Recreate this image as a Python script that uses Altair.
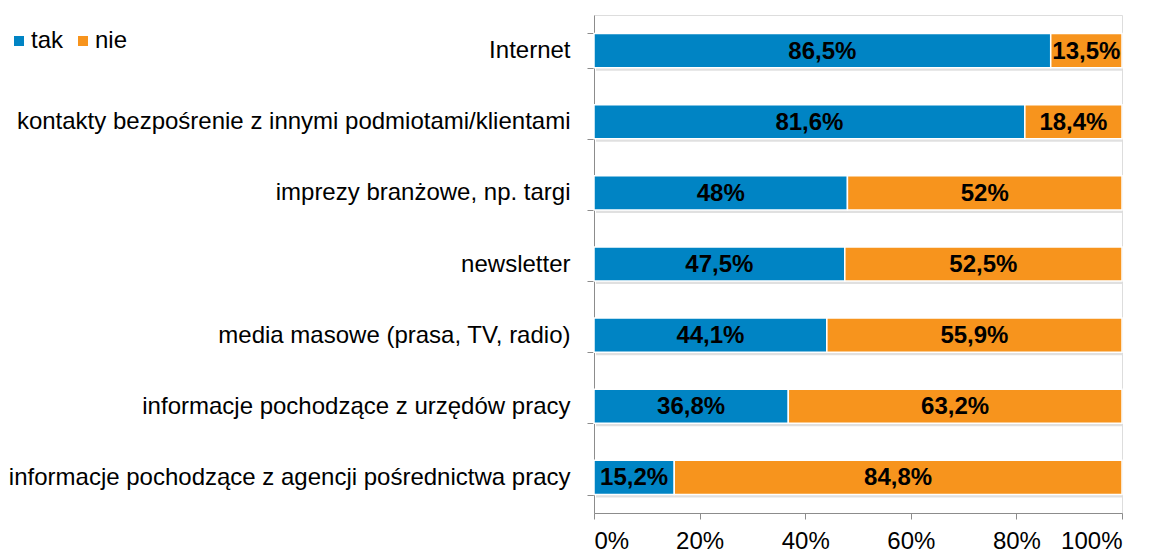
import altair as alt
import pandas as pd

categories = [
    "Internet",
    "kontakty bezpośrenie z innymi podmiotami/klientami",
    "imprezy branżowe, np. targi",
    "newsletter",
    "media masowe (prasa, TV, radio)",
    "informacje pochodzące z urzędów pracy",
    "informacje pochodzące z agencji pośrednictwa pracy",
]
tak = [86.5, 81.6, 48, 47.5, 44.1, 36.8, 15.2]
nie = [13.5, 18.4, 52, 52.5, 55.9, 63.2, 84.8]
series = ["tak", "nie"]
colors = ["#0084C4", "#F7941D"]
x_ticks = [0, 20, 40, 60, 80, 100]

rows = []
for c, t, n in zip(categories, tak, nie):
    rows.append({"category": c, "series": "tak", "value": t, "order": 0})
    rows.append({"category": c, "series": "nie", "value": n, "order": 1})
df = pd.DataFrame(rows)

FONT = "Liberation Sans"
FS = 24

y_enc = alt.Y(
    "category:N",
    sort=categories,
    title=None,
    scale=alt.Scale(paddingInner=0.52, paddingOuter=0.26),
    axis=alt.Axis(
        labelFont=FONT, labelFontSize=FS, labelColor="#000000",
        labelPadding=17, tickSize=7, tickBand="extent",
        domainColor="#8c8c8c", tickColor="#8c8c8c", labelLimit=700,
        grid=False,
    ),
)

base = alt.Chart(df)

shadow = base.transform_filter("datum.series == 'nie'").mark_bar(
    color="#000000", opacity=0.12, yOffset=3, xOffset=2
).encode(
    y=y_enc,
    x=alt.value(0),
    x2=alt.value(528),
)

bars = base.mark_bar(stroke="white", strokeWidth=1.5).encode(
    y=y_enc,
    x=alt.X(
        "value:Q", stack="zero", title=None,
        scale=alt.Scale(domain=[0, 100], nice=False),
        axis=alt.Axis(
            values=x_ticks, labelExpr="datum.value + '%'",
            labelFont=FONT, labelFontSize=FS, labelColor="#000000",
            labelPadding=10, tickSize=6, grid=False, domain=True,
            domainWidth=1, domainColor="#8c8c8c", tickColor="#8c8c8c",
        ),
    ),
    color=alt.Color(
        "series:N",
        scale=alt.Scale(domain=series, range=colors),
        legend=alt.Legend(
            title=None, orient="none", direction="horizontal",
            legendX=-587, legendY=14, symbolType="square", symbolSize=100,
            symbolStrokeWidth=0, labelFont=FONT, labelFontSize=FS,
            labelColor="#000000", labelOffset=0, columnPadding=7, padding=0,
        ),
    ),
    order=alt.Order("order:Q"),
)

text = base.transform_stack(
    stack="value", groupby=["category"], as_=["x0", "x1"],
    sort=[alt.SortField("order", order="ascending")],
).transform_calculate(
    mid="(datum.x0 + datum.x1) / 2",
    label="replace(format(datum.value, '.1~f'), '.', ',') + '%'",
).mark_text(
    font=FONT, fontSize=FS, fontWeight="bold", color="#000000",
    baseline="middle", dy=1,
).encode(
    y=alt.Y("category:N", sort=categories),
    x=alt.X("mid:Q"),
    text="label:N",
)

chart = alt.layer(shadow, bars, text).properties(
    width=528, height=498,
    padding={"left": 586, "top": 7, "right": 25, "bottom": 44},
    autosize=alt.AutoSizeParams(type="none"),
).configure_view(stroke=None).configure(background="white")

chart.save("out.html", embed_options={"renderer": "svg", "actions": False})
